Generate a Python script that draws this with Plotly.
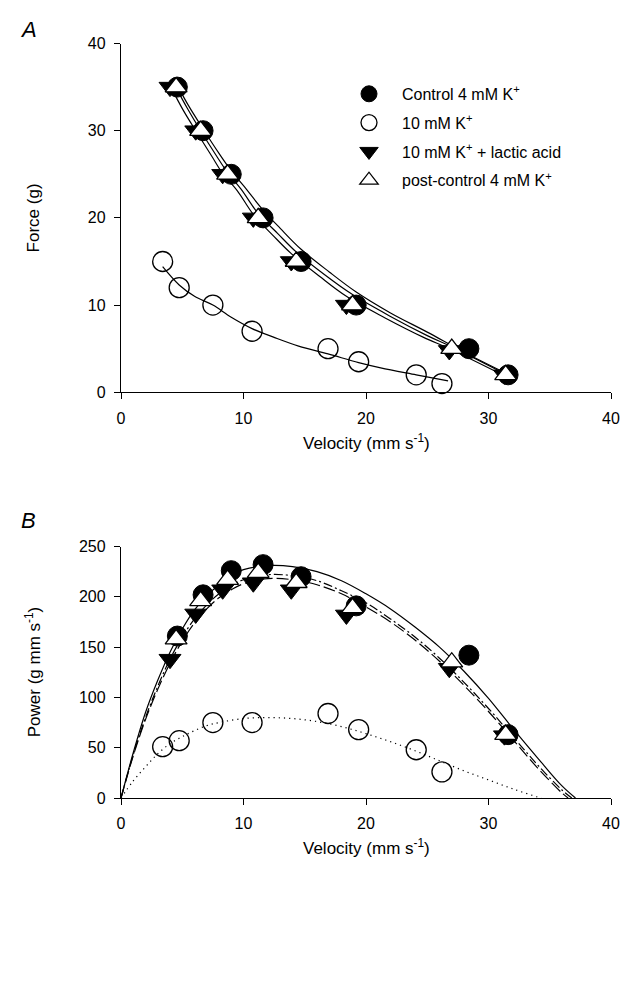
import plotly.graph_objects as go

# ---------------- Panel A: force-velocity data ----------------
ctrl_v = [4.6, 6.7, 9.0, 11.6, 14.7, 19.2, 28.4, 31.6]
ctrl_f = [35, 30, 25, 20, 15, 10, 5, 2]
k10_v = [3.4, 4.75, 7.5, 10.7, 16.9, 19.4, 24.1, 26.2]
k10_f = [15, 12, 10, 7, 5, 3.5, 2, 1]
lac_v = [4.0, 6.1, 8.3, 10.8, 13.9, 18.4, 26.8, 31.3]
lac_f = [35, 30, 25, 20, 15, 10, 4.8, 2]
post_v = [4.5, 6.5, 8.7, 11.2, 14.3, 18.9, 27.0, 31.4]
post_f = [35, 30, 25, 20, 15, 10, 5, 2]

# fitted curves (panel A)
fit_ctrl_v = [4.6, 5.5, 6.7, 8.0, 9.0, 10.0, 11.6, 13.0, 14.7, 17.0, 19.2, 22.0, 25.0, 28.0, 31.7]
fit_ctrl_f = [35.2, 32.9, 30.2, 27.4, 25.4, 23.7, 20.9, 18.8, 16.4, 13.8, 11.5, 9.1, 6.9, 4.6, 2.0]
fit_post_v = [4.4, 5.4, 6.5, 7.8, 8.7, 9.8, 11.2, 12.8, 14.3, 16.6, 18.9, 22.0, 25.0, 27.0, 31.5]
fit_post_f = [35.2, 32.6, 30.0, 27.1, 25.2, 23.3, 20.5, 18.2, 16.1, 13.5, 11.2, 8.7, 6.5, 5.2, 2.0]
fit_lac_v = [4.0, 5.1, 6.1, 7.4, 8.3, 9.5, 10.8, 12.4, 13.9, 16.2, 18.4, 21.6, 24.7, 26.8, 31.3]
fit_lac_f = [35.2, 32.3, 30.0, 27.1, 25.1, 23.1, 20.4, 18.0, 15.9, 13.3, 11.0, 8.5, 6.3, 5.0, 1.9]
fit_k10_v = [3.4, 4.75, 6.0, 7.5, 9.0, 10.7, 12.5, 14.5, 16.9, 19.4, 21.2, 24.1, 26.7]
fit_k10_f = [14.4, 12.3, 11.0, 10.0, 8.6, 7.3, 6.3, 5.3, 4.4, 3.4, 2.8, 2.0, 1.3]

# ---------------- Panel B: power-velocity data ----------------
ctrl_p = [161, 202, 226, 232, 220, 191, 142, 63]
k10_p = [51, 57, 75, 75, 84, 68, 48, 26]
lac_p = [138, 183, 207, 214, 207, 182, 129, 62]
post_p = [158, 196, 217, 224, 214, 189, 135, 63]

pfit_ctrl_v = [0, 1, 2, 3, 4, 5, 6, 7, 8, 9, 10, 12, 14, 16, 18, 20, 22, 24, 26, 28, 30, 32, 34, 36, 37.1]
pfit_ctrl_p = [0, 45, 85, 117, 145, 168, 187, 201, 212, 221, 227, 231, 230, 225, 216, 203, 188, 170, 150, 126, 99, 69, 40, 12, 0]
pfit_post_v = [0, 1, 2, 3, 4, 5, 6, 7, 8, 9, 10, 12, 14, 16, 18, 20, 22, 24, 26, 28, 30, 32, 34, 36, 36.8]
pfit_post_p = [0, 43, 80, 111, 138, 160, 178, 192, 203, 211, 217, 222, 221, 216, 206, 194, 178, 160, 139, 115, 89, 61, 33, 8, 0]
pfit_lac_v = [0, 1, 2, 3, 4, 5, 6, 7, 8, 9, 10, 12, 14, 16, 18, 20, 22, 24, 26, 28, 30, 32, 34, 36, 36.5]
pfit_lac_p = [0, 42, 78, 108, 134, 156, 174, 188, 199, 207, 213, 218, 217, 212, 203, 190, 175, 157, 136, 112, 86, 58, 30, 5, 0]
pfit_k10_v = [0, 1, 2, 3, 4, 5, 6, 7, 8, 10, 12, 14, 16, 18, 20, 22, 24, 26, 28, 30, 32, 34, 34.3]
pfit_k10_p = [0, 17, 31, 44, 54, 61, 67, 72, 75, 79, 80, 79, 76, 71, 64, 56, 47, 37, 27, 18, 9, 1, 0]

x_ticks = [0, 10, 20, 30, 40]
yA_ticks = [0, 10, 20, 30, 40]
yB_ticks = [0, 50, 100, 150, 200, 250]

names = ["Control 4 mM K<sup>+</sup>", "10 mM K<sup>+</sup>",
         "10 mM K<sup>+</sup> + lactic acid", "post-control 4 mM K<sup>+</sup>"]

FONT = "Arial, 'Liberation Sans', sans-serif"
# page body has an 8px margin; figure sized so the page is 636x984
OFF = 8
W, H = 636 - 2 * OFF, 984 - 2 * OFF
X0, X40 = 121, 611
L, R = X0 - OFF, 636 - X40 - OFF
PW = W - L - R


def px(xr):
    return (xr - X0) / PW


def py(yr):
    return 1 - (yr - OFF) / H


fig = go.Figure()

# Panel A curves
for vx, fy in [(fit_ctrl_v, fit_ctrl_f), (fit_post_v, fit_post_f), (fit_lac_v, fit_lac_f), (fit_k10_v, fit_k10_f)]:
    fig.add_trace(go.Scatter(x=vx, y=fy, mode="lines", line=dict(color="black", width=1.2, shape="spline"),
                             showlegend=False, hoverinfo="skip", xaxis="x", yaxis="y"))
# Panel B curves
for vx, pp, dash in [(pfit_ctrl_v, pfit_ctrl_p, "solid"), (pfit_post_v, pfit_post_p, "9px,3px,2px,3px"),
                     (pfit_lac_v, pfit_lac_p, "12px,4px"), (pfit_k10_v, pfit_k10_p, "1.2px,4px")]:
    fig.add_trace(go.Scatter(x=vx, y=pp, mode="lines",
                             line=dict(color="black", width=1.2, shape="spline", dash=dash),
                             showlegend=False, hoverinfo="skip", xaxis="x2", yaxis="y2"))

styles = [
    dict(symbol="circle", size=20, color="black", line=dict(color="black", width=1)),
    dict(symbol="circle-open", size=20, color="black", line=dict(color="black", width=1.3)),
    dict(symbol="triangle-down", size=19, color="black", line=dict(color="black", width=1)),
    dict(symbol="triangle-up", size=19, color="white", line=dict(color="black", width=1.3)),
]
dataA = [(ctrl_v, ctrl_f), (k10_v, k10_f), (lac_v, lac_f), (post_v, post_f)]
dataB = [(ctrl_v, ctrl_p), (k10_v, k10_p), (lac_v, lac_p), (post_v, post_p)]

for i in range(4):
    fig.add_trace(go.Scatter(x=dataA[i][0], y=dataA[i][1], mode="markers", marker=styles[i],
                             name=names[i], legendgroup="g%d" % i, showlegend=True,
                             xaxis="x", yaxis="y", cliponaxis=False))
for i in range(4):
    fig.add_trace(go.Scatter(x=dataB[i][0], y=dataB[i][1], mode="markers", marker=styles[i],
                             name=names[i], showlegend=False, xaxis="x2", yaxis="y2", cliponaxis=False))

axis_common = dict(showgrid=False, zeroline=False, showline=True, linecolor="black", linewidth=1.3,
                   ticks="outside", ticklen=6, tickwidth=1.2, tickcolor="black",
                   tickfont=dict(family=FONT, size=16, color="black"), ticklabelstandoff=5)

yA = (py(391), py(36))
yB = (py(804), py(548))

fig.update_layout(
    width=W, height=H,
    margin=dict(l=L, r=R, t=0, b=0),
    paper_bgcolor="white", plot_bgcolor="white",
    font=dict(family=FONT, size=16, color="black"),
    xaxis=dict(axis_common, range=[0, 40], tickvals=x_ticks, anchor="y", domain=[0, 1]),
    yaxis=dict(axis_common, range=[0, 40], tickvals=yA_ticks, anchor="x", domain=list(yA)),
    xaxis2=dict(axis_common, range=[0, 40], tickvals=x_ticks, anchor="y2", domain=[0, 1]),
    yaxis2=dict(axis_common, range=[0, 250], tickvals=yB_ticks, anchor="x2", domain=list(yB)),
    legend=dict(x=px(336), y=py(70), xanchor="left", yanchor="top", xref="paper", yref="paper",
                font=dict(family=FONT, size=16, color="black"), bgcolor="rgba(0,0,0,0)",
                itemsizing="trace", itemwidth=56, tracegroupgap=5, traceorder="grouped"),
    showlegend=True,
)

annotations = []
# panel letters
annotations.append(dict(text="<i>A</i>", x=px(28), y=1, xref="paper", yref="paper",
                        xanchor="center", yanchor="top", showarrow=False, borderpad=0,
                        font=dict(family=FONT, size=22, color="black")))
annotations.append(dict(text="<i>B</i>", x=px(28), y=py(522), xref="paper", yref="paper",
                        xanchor="center", yanchor="middle", showarrow=False,
                        font=dict(family=FONT, size=22, color="black")))
titles = [
    ("Velocity (mm s<sup>-1</sup>)", 366, 442, 0),
    ("Velocity (mm s<sup>-1</sup>)", 366, 854, 0),
    ("Force (g)", 33, 214, -90),
    ("Power (g mm s<sup>-1</sup>)", 33, 676, -90),
]
for t, xr, yr, ang in titles:
    annotations.append(dict(text=t, x=px(xr), y=py(yr), xref="paper", yref="paper", xanchor="center",
                            yanchor="middle", showarrow=False, textangle=ang,
                            font=dict(family=FONT, size=17, color="black")))
fig.update_layout(annotations=annotations)

fig.write_html("out.html")
